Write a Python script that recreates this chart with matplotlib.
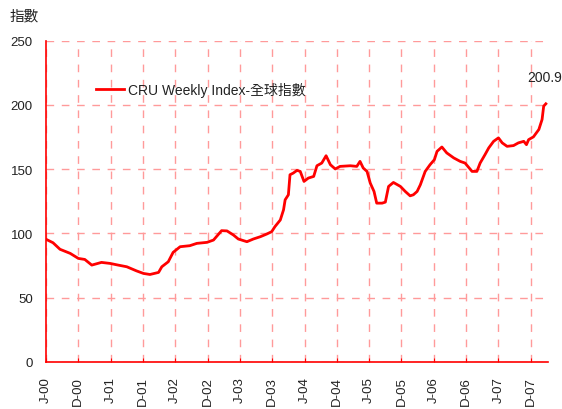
import matplotlib
matplotlib.use('Agg')
import matplotlib.pyplot as plt

# months since J-00 (Jun 2000) and CRU weekly index values
months = [0.0, 1.3, 2.6, 4.5, 6.0, 7.2, 8.5, 10.3, 11.9, 13.4, 15.0, 16.8, 18.1, 19.3,
          20.9, 21.5, 22.7, 23.6, 24.9, 26.7, 28.0, 29.9, 31.1, 32.6, 33.6, 34.8, 35.7,
          37.3, 38.5, 39.8, 41.0, 41.9, 42.5, 43.5, 44.1, 44.4, 45.0, 45.3, 45.9, 46.6,
          47.2, 47.9, 48.7, 49.7, 50.3, 51.2, 52.0, 52.8, 53.7, 54.6, 56.5, 57.7, 58.3,
          58.9, 59.6, 60.2, 60.9, 61.4, 62.4, 63.0, 63.6, 64.5, 65.8, 66.7, 67.6, 68.2,
          68.9, 69.5, 70.4, 71.3, 72.1, 72.6, 73.5, 74.4, 75.7, 76.9, 77.8, 79.1, 80.0,
          80.6, 81.5, 82.2, 83.1, 84.0, 84.7, 85.6, 86.8, 87.7, 88.7, 89.2, 89.6, 90.5,
          91.5, 92.1, 92.4, 92.8]
index_values = [95.5, 92.8, 87.7, 84.5, 80.6, 79.8, 75.4, 77.5, 76.7, 75.4, 74.1, 70.9,
                68.9, 68.1, 69.7, 74.1, 78.0, 85.3, 89.7, 90.5, 92.3, 93.1, 94.9, 102.2,
                102.0, 98.8, 95.7, 93.6, 95.7, 97.5, 99.6, 101.4, 105.3, 110.5, 118.4,
                126.2, 130.1, 145.7, 147.0, 149.1, 148.3, 140.5, 143.1, 144.4, 152.7,
                154.8, 160.5, 153.5, 150.2, 152.2, 152.7, 152.2, 156.1, 150.9, 148.3,
                139.2, 132.7, 123.6, 123.6, 124.4, 136.6, 139.7, 136.6, 132.7, 129.3,
                130.1, 132.7, 137.9, 148.3, 153.5, 157.4, 163.9, 167.3, 162.7, 158.8,
                156.1, 154.8, 148.3, 148.3, 154.8, 161.3, 166.6, 171.7, 174.4, 170.5,
                167.8, 168.4, 170.5, 171.7, 169.1, 173.0, 175.2, 180.9, 188.7, 199.1,
                200.9]

tick_months = list(range(0, 91, 6))
tick_labels = ['J-00', 'D-00', 'J-01', 'D-01', 'J-02', 'D-02', 'J-03', 'D-03',
               'J-04', 'D-04', 'J-05', 'D-05', 'J-06', 'D-06', 'J-07', 'D-07']
y_ticks = [0, 50, 100, 150, 200, 250]
last_label = '200.9'

cjk = 'Noto Sans CJK TC'
plt.rcParams['font.family'] = ['Liberation Sans', cjk, 'DejaVu Sans']
text_col = '#222222'

fig = plt.figure(figsize=(5.62, 4.10), dpi=100)
ax = fig.add_axes([46 / 562, 47 / 410, 502 / 562, 321.3 / 410])

ax.plot(months, index_values, color='#ff0000', lw=2.0, label='CRU Weekly Index-全球指數')

ax.set_xlim(0, 93.2)
ax.set_ylim(0, 250)
ax.set_xticks(tick_months)
ax.set_xticklabels(tick_labels, rotation=90, fontsize=9.5, color=text_col)
ax.set_yticks(y_ticks)
ax.set_yticklabels([str(v) for v in y_ticks], fontsize=9.5, color=text_col)
ax.tick_params(axis='x', direction='in', length=3, color='#ff0000', pad=10)
ax.tick_params(axis='y', direction='in', length=0, pad=9.5)

ax.grid(True, color='#ff9a9a', lw=1, linestyle=(0, (5.5, 5.5)))
ax.set_axisbelow(True)
for side in ['top', 'right']:
    ax.spines[side].set_visible(False)
for side in ['left', 'bottom']:
    ax.spines[side].set_color('#ff0000')
    ax.spines[side].set_linewidth(1.2)

ax.annotate(last_label, (months[-1], index_values[-1]), xytext=(-1, 14),
            textcoords='offset points', ha='center', va='bottom', fontsize=10,
            color=text_col, annotation_clip=False)

ax.legend(loc='center left', bbox_to_anchor=(0.0996, 0.8475), frameon=False,
          borderaxespad=0, borderpad=0, handlelength=2.0, handletextpad=0.3,
          prop={'size': 10}, labelcolor=text_col)

fig.text(10 / 562, 1 - 16 / 410, '指數', ha='left', va='center', fontsize=10.5,
         color=text_col, family=[cjk])

fig.savefig('out.png', dpi=100)
